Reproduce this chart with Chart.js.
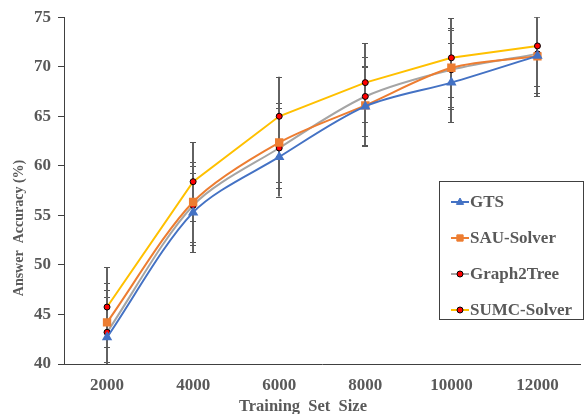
<!DOCTYPE html>
<html>
<head>
<meta charset="utf-8">
<script src="https://cdn.jsdelivr.net/npm/chart.js@4.4.0/dist/chart.umd.min.js"></script>
<style>
  html, body { margin: 0; padding: 0; background: #fff; overflow: hidden; }
  #wrap { position: relative; width: 587px; height: 414px; }
</style>
</head>
<body>
<div id="wrap"><canvas id="chart"></canvas></div>
<script>
// training set sizes (x axis)
const sizes = ['2000', '4000', '6000', '8000', '10000', '12000'];

// answer accuracy (%) per model
const gtsAcc  = [42.7, 55.3, 60.9, 66.0, 68.4, 71.1];
const sauAcc  = [44.2, 56.35, 62.35, 66.1, 69.9, 71.05];
const g2tAcc  = [43.2, 56.0, 61.8, 67.0, 69.7, 71.3];
const sumcAcc = [45.75, 58.4, 65.0, 68.4, 70.9, 72.1];

// error bar half-widths
const gtsErr  = [4.1, 4.0, 4.0, 4.0, 4.0, 4.1];
const sauErr  = [4.0, 4.0, 4.0, 4.0, 4.0, 4.0];
const g2tErr  = [4.3, 4.0, 4.0, 4.0, 4.0, 4.0];
const sumcErr = [4.0, 4.0, 4.0, 4.0, 4.0, 4.0];

// y axis ticks
const yTicks = [40, 45, 50, 55, 60, 65, 70, 75];

const serif = "'Liberation Serif', 'Times New Roman', serif";
const textGray = '#595959';

function drawMarker(ctx, style, x, y, r, fill, stroke) {
    ctx.save();
    ctx.fillStyle = fill;
    ctx.strokeStyle = stroke;
    ctx.lineWidth = 1;
    ctx.beginPath();
    if (style === 'triangle') {
        ctx.moveTo(x, y - r);
        ctx.lineTo(x + r * 0.9, y + r * 0.6);
        ctx.lineTo(x - r * 0.9, y + r * 0.6);
        ctx.closePath();
    } else if (style === 'rect') {
        ctx.rect(x - r * 0.7, y - r * 0.7, r * 1.4, r * 1.4);
    } else {
        ctx.arc(x, y, r, 0, Math.PI * 2);
    }
    ctx.fill();
    ctx.stroke();
    ctx.restore();
}

// 误差线
const errorBars = {
    id: 'errorBars',
    beforeDatasetsDraw(chart) {
        const { ctx, chartArea, scales } = chart;
        ctx.save();
        ctx.beginPath();
        ctx.rect(chartArea.left, chartArea.top, chartArea.right - chartArea.left, chartArea.bottom - chartArea.top);
        ctx.clip();
        chart.data.datasets.forEach(ds => {
            ds.errors.forEach((e, j) => {
                const px = Math.round(scales.x.getPixelForValue(j));
                const top = scales.y.getPixelForValue(ds.data[j] + e);
                const bot = scales.y.getPixelForValue(ds.data[j] - e);
                ctx.strokeStyle = '#626262';
                ctx.lineWidth = 2;
                ctx.beginPath();
                ctx.moveTo(px, top);
                ctx.lineTo(px, bot);
                ctx.stroke();
                ctx.lineWidth = 1;
                ctx.strokeStyle = '#555';
                ctx.beginPath();
                ctx.moveTo(px - 3, Math.round(top) + 0.5);
                ctx.lineTo(px + 3, Math.round(top) + 0.5);
                ctx.moveTo(px - 3, Math.round(bot) + 0.5);
                ctx.lineTo(px + 3, Math.round(bot) + 0.5);
                ctx.stroke();
            });
        });
        ctx.restore();
    }
};

// 坐标轴标题和图例
const extras = {
    id: 'extras',
    afterDraw(chart) {
        const ctx = chart.ctx;
        ctx.save();
        ctx.fillStyle = textGray;
        ctx.textAlign = 'center';
        ctx.textBaseline = 'middle';

        ctx.font = 'bold 16.5px ' + serif;
        ctx.fillText('Training  Set  Size', 303, 407);

        ctx.save();
        ctx.translate(19, 228);
        ctx.rotate(-Math.PI / 2);
        ctx.font = 'bold 14px ' + serif;
        ctx.fillText('Answer  Accuracy (%)', 0, 0);
        ctx.restore();

        // legend box
        ctx.strokeStyle = '#404040';
        ctx.lineWidth = 1;
        ctx.strokeRect(439.5, 181.5, 144, 138);
        ctx.textAlign = 'left';
        ctx.font = 'bold 17px ' + serif;
        const rows = [202, 238, 274, 310];
        chart.data.datasets.forEach((ds, i) => {
            const y = rows[i];
            ctx.strokeStyle = ds.borderColor;
            ctx.lineWidth = 2;
            ctx.beginPath();
            ctx.moveTo(451, y);
            ctx.lineTo(469, y);
            ctx.stroke();
            drawMarker(ctx, ds.pointStyle, 460, y, ds.pointRadius, ds.pointBackgroundColor, ds.pointBorderColor);
            ctx.fillStyle = textGray;
            ctx.fillText(ds.label, 470, y + 1);
        });
        ctx.restore();
    }
};

new Chart(document.getElementById('chart'), {
    type: 'line',
    data: {
        labels: sizes,
        datasets: [
            {
                label: 'GTS', data: gtsAcc, errors: gtsErr,
                borderColor: '#4472C4', borderWidth: 2, tension: 0.3,
                pointStyle: 'triangle', pointRadius: 4,
                pointBackgroundColor: '#4472C4', pointBorderColor: '#4472C4'
            },
            {
                label: 'SAU-Solver', data: sauAcc, errors: sauErr,
                borderColor: '#ED7D31', borderWidth: 2, tension: 0.3,
                pointStyle: 'rect', pointRadius: 4.5,
                pointBackgroundColor: '#ED7D31', pointBorderColor: '#ED7D31'
            },
            {
                label: 'Graph2Tree', data: g2tAcc, errors: g2tErr,
                borderColor: '#A5A5A5', borderWidth: 2, tension: 0.3,
                pointStyle: 'circle', pointRadius: 3, pointBorderWidth: 1,
                pointBackgroundColor: '#FF0000', pointBorderColor: '#000'
            },
            {
                label: 'SUMC-Solver', data: sumcAcc, errors: sumcErr,
                borderColor: '#FFC000', borderWidth: 2, tension: 0,
                pointStyle: 'circle', pointRadius: 3, pointBorderWidth: 1,
                pointBackgroundColor: '#FF0000', pointBorderColor: '#000'
            }
        ]
    },
    options: {
        responsive: true,
        maintainAspectRatio: false,
        animation: false,
        layout: { padding: { top: 14, left: 0, right: 0, bottom: 0 } },
        plugins: {
            legend: { display: false },
            tooltip: { enabled: false }
        },
        scales: {
            x: {
                offset: true,
                grid: { display: false, drawTicks: false },
                border: { display: true, color: '#404040', width: 1 },
                ticks: {
                    color: textGray, padding: 11,
                    font: { family: serif, size: 17, weight: 'bold' }
                },
                afterFit(scale) { scale.height = 50; }
            },
            y: {
                min: 40, max: 75,
                afterBuildTicks(scale) { scale.ticks = yTicks.map(v => ({ value: v })); },
                grid: { drawOnChartArea: false, drawTicks: true, tickLength: 6, color: '#404040' },
                border: { display: true, color: '#404040', width: 1 },
                ticks: {
                    color: textGray, padding: 7,
                    font: { family: serif, size: 17, weight: 'bold' }
                },
                afterFit(scale) { scale.width = 64; }
            }
        }
    },
    plugins: [errorBars, extras]
});
</script>
</body>
</html>
